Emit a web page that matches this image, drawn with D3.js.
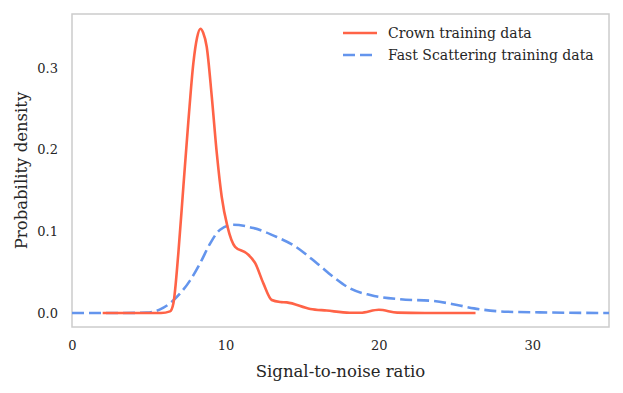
<!DOCTYPE html>
<html>
<head>
<meta charset="utf-8">
<script src="https://cdn.jsdelivr.net/npm/d3@7"></script>
<style>
  body { margin: 0; background: #fff; }
  text { font-family: 'DejaVu Serif', 'Liberation Serif', serif; fill: #262626; }
</style>
</head>
<body>
<div id="chart"></div>
<script>
// Crown training data (SNR, density)
const crownSnr = [2, 4, 5.8, 6.39, 6.61, 6.93, 7.26, 7.59, 7.91, 8.15, 8.37, 8.55, 8.78, 9.11, 9.44, 9.76, 10.13, 10.63, 11.39, 11.94, 12.48, 13.02, 13.57, 14.0, 15.53, 16.6, 18.1, 18.8, 20.0, 21.2, 23, 26.3]
const crownDensity = [0, 0, 0, 0.002, 0.012, 0.073, 0.155, 0.236, 0.306, 0.337, 0.348, 0.343, 0.326, 0.265, 0.195, 0.142, 0.106, 0.081, 0.073, 0.061, 0.036, 0.016, 0.0135, 0.013, 0.005, 0.003, 0.0004, 0.0003, 0.004, 0.0005, 0, 0]

// Fast Scattering training data
const fastSnr = [0, 3, 4.87, 5.74, 6.39, 7.05, 7.7, 8.35, 9.0, 9.65, 10.52, 11.83, 13.35, 14.43, 15.96, 17.05, 18.13, 19.44, 21.4, 23.57, 25.1, 26.2, 28.35, 30.5, 35]
const fastDensity = [0, 0, 0.0005, 0.0045, 0.012, 0.024, 0.040, 0.061, 0.085, 0.102, 0.108, 0.104, 0.093, 0.083, 0.061, 0.044, 0.030, 0.022, 0.0168, 0.0147, 0.0098, 0.0057, 0.0016, 0.0008, 0]

const xTicks = [0, 10, 20, 30]
const yTicks = [0.0, 0.1, 0.2, 0.3]
const seriesNames = ['Crown training data', 'Fast Scattering training data']

const dms = {
  width: 623,
  height: 393,
  margin: { top: 14, right: 14, bottom: 66, left: 72 }
}
dms.contentWidth = dms.width - dms.margin.left - dms.margin.right
dms.contentHeight = dms.height - dms.margin.top - dms.margin.bottom

const svg = d3.select('#chart').append('svg')
  .attr('width', dms.width)
  .attr('height', dms.height)

const content = svg.append('g')
  .attr('transform', `translate(${dms.margin.left},${dms.margin.top})`)

const xScale = d3.scaleLinear()
  .domain([0, 35])
  .range([0, dms.contentWidth])

const yScale = d3.scaleLinear()
  .domain([-0.0171, 0.366])
  .range([dms.contentHeight, 0])

// frame
content.append('rect')
  .attr('width', dms.contentWidth)
  .attr('height', dms.contentHeight)
  .attr('fill', 'none')
  .attr('stroke', '#cccccc')
  .attr('stroke-width', 1.5)

const xAxis = content.append('g')
  .attr('transform', `translate(0,${dms.contentHeight})`)
  .call(d3.axisBottom(xScale).tickValues(xTicks).tickSize(0).tickPadding(14).tickFormat(d3.format('d')))
xAxis.select('.domain').remove()
xAxis.selectAll('text').style('font-size', '13px').attr('fill', '#262626')

const yAxis = content.append('g')
  .call(d3.axisLeft(yScale).tickValues(yTicks).tickSize(0).tickPadding(14).tickFormat(d3.format('.1f')))
yAxis.select('.domain').remove()
yAxis.selectAll('text').style('font-size', '13px').attr('fill', '#262626')

content.append('text')
  .attr('x', dms.contentWidth / 2)
  .attr('y', dms.contentHeight + 50)
  .attr('text-anchor', 'middle')
  .style('font-size', '16.5px')
  .text('Signal-to-noise ratio')

content.append('text')
  .attr('transform', `translate(-45,${dms.contentHeight / 2}) rotate(-90)`)
  .attr('text-anchor', 'middle')
  .style('font-size', '16.5px')
  .text('Probability density')

const line = d3.line()
  .x(d => xScale(d[0]))
  .y(d => yScale(d[1]))
  .curve(d3.curveMonotoneX)

const crown = d3.zip(crownSnr, crownDensity)
const fast = d3.zip(fastSnr, fastDensity)

content.append('path')
  .datum(fast)
  .attr('d', line)
  .attr('fill', 'none')
  .attr('stroke', 'cornflowerblue')
  .attr('stroke-width', 2.6)
  .attr('stroke-dasharray', '12,5')

content.append('path')
  .datum(crown)
  .attr('d', line)
  .attr('fill', 'none')
  .attr('stroke', 'tomato')
  .attr('stroke-width', 2.6)

// legend
const legend = content.append('g')
  .attr('transform', 'translate(271,19)')

const styles = [
  { color: 'tomato', dash: null },
  { color: 'cornflowerblue', dash: '12,5' }
]

seriesNames.forEach((name, i) => {
  const row = legend.append('g').attr('transform', `translate(0,${i * 22})`)
  row.append('line')
    .attr('x1', 0).attr('x2', 34)
    .attr('stroke', styles[i].color)
    .attr('stroke-width', 2.6)
    .attr('stroke-dasharray', styles[i].dash)
  row.append('text')
    .attr('x', 45)
    .attr('y', 5)
    .style('font-size', '14px')
    .text(name)
})
</script>
</body>
</html>
